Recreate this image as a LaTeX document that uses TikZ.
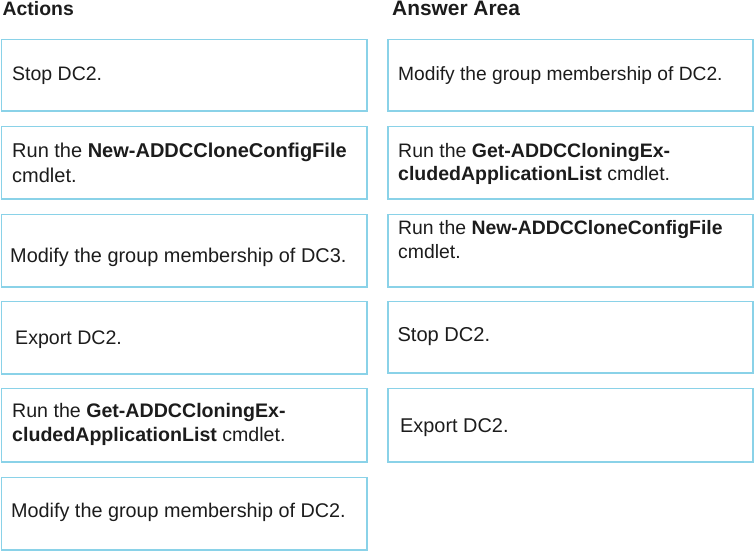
\documentclass[tikz,border=0pt]{standalone}
\usepackage{fontspec}
\setmainfont{Liberation Sans}
\definecolor{boxline}{RGB}{138,210,232}
\definecolor{ink}{RGB}{28,28,28}
\newcommand{\txtblock}[1]{\parbox[t]{355pt}{\raggedright #1}}
\newcommand{\fsz}[2]{\fontsize{#1}{#2}\selectfont}
\begin{document}
\begin{tikzpicture}[x=1pt,y=-1pt,
  lbox/.style={draw=boxline, line width=1.5pt, rectangle, inner sep=0pt, anchor=north west, minimum width=365.5pt},
  rbox/.style={draw=boxline, line width=1.5pt, rectangle, inner sep=0pt, anchor=north west, minimum width=365pt},
  lbl/.style={anchor=base west, inner sep=0pt, text=ink, font=\fsz{19.6}{24}},
  head/.style={anchor=base west, inner sep=0pt, text=ink, font=\fsz{19.4}{24}\bfseries}]
\useasboundingbox (0,0) rectangle (754,551);
% headings
\node[head] (hact) at (2.5,16) {Actions};
\node[head, font=\fsz{20.9}{24}\bfseries] (hans) at (392,16) {Answer Area};
% left boxes
\node[lbox, minimum height=71.5pt] (L1) at (0.75,38.75) {};
\node[lbox, minimum height=72.5pt] (L2) at (0.75,125.75) {};
\node[lbox, minimum height=72.5pt] (L3) at (0.75,213.75) {};
\node[lbox, minimum height=72.5pt] (L4) at (0.75,300.75) {};
\node[lbox, minimum height=73.5pt] (L5) at (0.75,387.75) {};
\node[lbox, minimum height=72.5pt] (L6) at (0.75,476.75) {};
% right boxes
\node[rbox, minimum height=71.5pt] (R1) at (387.25,38.75) {};
\node[rbox, minimum height=72.5pt] (R2) at (387.25,125.75) {};
\node[rbox, minimum height=72.5pt] (R3) at (387.25,213.75) {};
\node[rbox, minimum height=71.5pt] (R4) at (387.25,300.75) {};
\node[rbox, minimum height=73.5pt] (R5) at (387.25,387.75) {};
% left texts
\node[lbl, font=\fsz{19.5}{24}] (tL1) at (12,80.5) {Stop DC2.};
\node[lbl, font=\fsz{20.0}{25}] (tL2) at (12,157) {\txtblock{Run the \textbf{New-ADDCCloneConfigFile}\\cmdlet.}};
\node[lbl, font=\fsz{19.9}{24}] (tL3) at (10,262) {Modify the group membership of DC3.};
\node[lbl, font=\fsz{19.6}{24}] (tL4) at (15,344.5) {Export DC2.};
\node[lbl, font=\fsz{19.6}{23.3}] (tL5) at (12,417.7) {\txtblock{Run the \textbf{Get-ADDCCloningEx-}\\\textbf{cludedApplicationList} cmdlet.}};
\node[lbl, font=\fsz{19.8}{24}] (tL6) at (11,517.7) {Modify the group membership of DC2.};
% right texts
\node[lbl, font=\fsz{19.2}{24}] (tR1) at (398,81) {Modify the group membership of DC2.};
\node[lbl, font=\fsz{19.5}{23}] (tR2) at (398,157.7) {\txtblock{Run the \textbf{Get-ADDCCloningEx-}\\\textbf{cludedApplicationList} cmdlet.}};
\node[lbl, font=\fsz{19.4}{24}] (tR3) at (398,234) {\txtblock{Run the \textbf{New-ADDCCloneConfigFile}\\cmdlet.}};
\node[lbl, font=\fsz{20.1}{24}] (tR4) at (397.3,341.7) {Stop DC2.};
\node[lbl, font=\fsz{19.9}{24}] (tR5) at (400,432.7) {Export DC2.};
\end{tikzpicture}
\end{document}
